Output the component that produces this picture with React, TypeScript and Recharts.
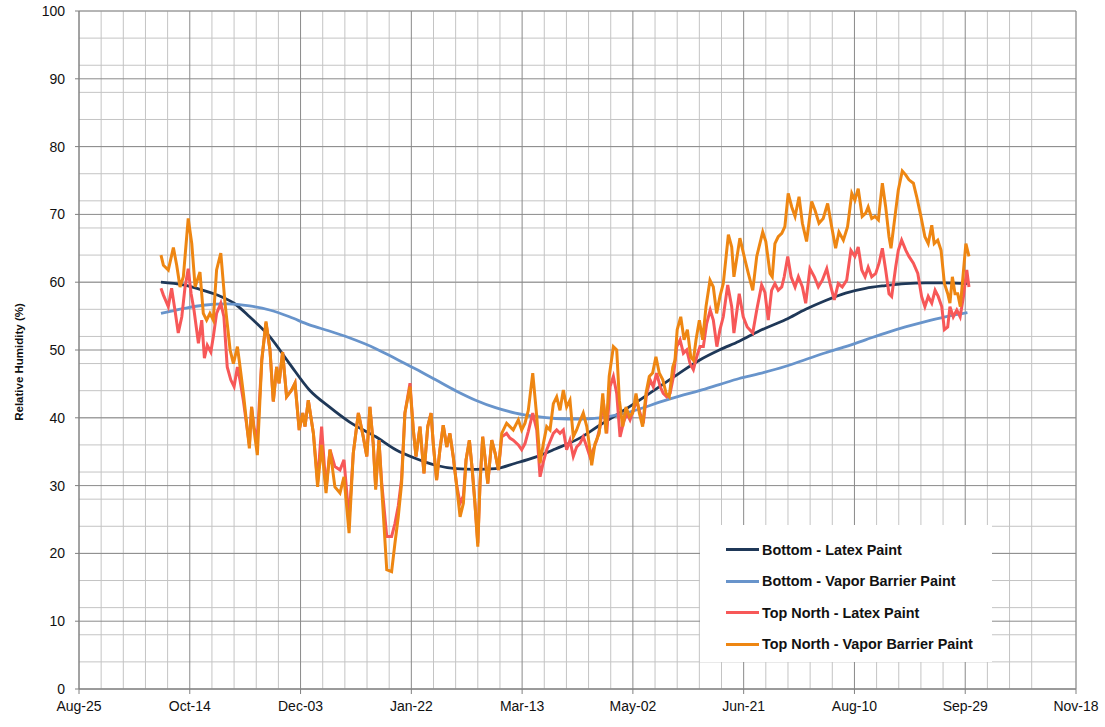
import { LineChart, Line, XAxis, YAxis, CartesianGrid, Legend, Label } from "recharts";

// x values are days counted from Aug-25
const xTicks = [0, 50, 100, 150, 200, 250, 300, 350, 400, 450];
const xTickLabels = ["Aug-25", "Oct-14", "Dec-03", "Jan-22", "Mar-13", "May-02", "Jun-21", "Aug-10", "Sep-29", "Nov-18"];
const yTicks = [0, 10, 20, 30, 40, 50, 60, 70, 80, 90, 100];

const bottomLatexDays = [37, 47, 56, 64, 70, 77, 86, 95, 104, 113, 122, 134, 143, 152, 161, 170, 179, 188, 197, 206, 215, 226, 235, 244, 253, 262, 271, 280, 289, 298, 307, 319, 328, 337, 346, 355, 364, 373, 382, 391, 401];
const bottomLatexRH = [60.0, 59.6, 58.8, 57.9, 56.9, 54.9, 52.0, 48.0, 44.1, 41.6, 39.4, 37.2, 35.3, 34.0, 33.0, 32.5, 32.4, 32.5, 33.3, 34.2, 35.4, 37.0, 38.9, 40.7, 42.6, 44.6, 46.6, 48.5, 50.0, 51.3, 52.8, 54.5, 56.0, 57.3, 58.4, 59.1, 59.5, 59.8, 59.9, 59.9, 59.8];

const bottomVaporDays = [37, 47, 56, 67, 77, 86, 95, 104, 113, 122, 134, 143, 152, 161, 170, 179, 188, 197, 206, 215, 226, 235, 244, 253, 262, 271, 280, 289, 298, 307, 319, 328, 337, 346, 355, 364, 373, 382, 391, 401];
const bottomVaporRH = [55.4, 56.1, 56.6, 56.8, 56.5, 55.9, 54.9, 53.7, 52.8, 51.8, 50.2, 48.7, 47.2, 45.6, 44.0, 42.6, 41.5, 40.7, 40.2, 39.9, 39.8, 40.0, 40.5, 41.3, 42.3, 43.2, 44.0, 44.9, 45.8, 46.5, 47.6, 48.6, 49.6, 50.5, 51.5, 52.5, 53.4, 54.2, 54.9, 55.5];

const topLatexDays = [
  37.0, 38.1, 40.3, 41.8, 43.3, 44.8, 46.4, 47.8, 49.3, 50.6,
  51.9, 53.9, 55.4, 56.6, 57.9, 59.5, 60.6, 62.1, 64.0, 65.4,
  66.9, 68.5, 70.0, 71.5, 72.7, 74.2, 76.9, 77.9, 79.0, 80.5,
  82.5, 84.4, 86.2, 87.7, 89.2, 90.3, 91.9, 93.7, 96.0, 97.5,
  99.4, 101.0, 102.0, 103.5, 105.8, 107.7, 109.5, 111.5, 113.3, 115.5,
  117.8, 119.6, 121.9, 123.8, 126.1, 128.3, 129.9, 131.3, 132.8, 133.9,
  135.4, 136.6, 138.9, 141.1, 142.6, 144.1, 145.6, 147.1, 149.4, 150.9,
  152.1, 153.9, 155.7, 157.4, 158.9, 159.9, 161.4, 162.9, 164.4, 166.0,
  167.4, 168.9, 170.5, 172.0, 173.5, 174.7, 176.2, 177.5, 178.7, 180.0,
  181.0, 182.2, 183.2, 184.5, 186.3, 187.8, 189.3, 190.8, 193.0, 194.5,
  196.0, 198.3, 199.8, 201.3, 202.8, 204.8, 206.6, 208.1, 209.6, 211.1,
  212.6, 214.1, 215.6, 217.1, 218.6, 220.1, 221.6, 223.1, 224.6, 226.1,
  227.6, 229.2, 230.6, 232.1, 233.7, 235.2, 236.6, 238.2, 239.7, 241.2,
  242.7, 244.2, 245.7, 247.2, 248.7, 250.2, 251.7, 253.2, 254.7, 256.2,
  257.8, 259.2, 260.7, 262.3, 263.7, 265.3, 266.8, 268.3, 269.8, 271.3,
  272.8, 274.3, 275.8, 277.3, 278.8, 280.3, 281.8, 283.3, 284.9, 286.3,
  287.9, 289.3, 290.8, 292.8, 294.6, 295.6, 298.0, 299.8, 301.6, 304.1,
  305.9, 308.1, 309.6, 311.1, 312.6, 314.1, 315.6, 317.2, 318.3, 319.9,
  321.4, 323.2, 324.7, 326.5, 328.0, 329.9, 331.9, 333.7, 335.5, 337.5,
  339.0, 340.9, 342.7, 344.5, 346.5, 348.4, 350.2, 351.7, 353.3, 354.8,
  356.2, 357.8, 359.6, 361.1, 362.6, 364.1, 365.6, 366.8, 368.6, 369.8,
  371.3, 373.2, 374.6, 376.6, 378.6, 380.3, 381.8, 383.3, 384.9, 386.4,
  387.8, 389.4, 390.6, 392.1, 393.1, 394.6, 396.2, 397.7, 399.2, 400.7,
  401.7,
];
const topLatexRH = [
  59.1, 58.1, 56.4, 59.1, 55.9, 52.5, 54.9, 59.1, 62.0, 58.3,
  55.9, 51.0, 54.4, 48.8, 50.7, 49.7, 51.9, 55.4, 56.9, 54.9,
  47.5, 45.6, 44.6, 47.5, 45.5, 42.5, 36.0, 41.6, 38.5, 37.0,
  48.5, 54.0, 50.0, 42.4, 47.5, 45.1, 49.7, 43.1, 44.1, 45.1,
  38.2, 40.7, 38.7, 42.6, 37.7, 30.5, 38.7, 29.5, 35.3, 32.8,
  32.3, 33.8, 25.0, 34.8, 40.7, 37.2, 34.3, 41.6, 36.2, 29.8,
  36.7, 30.5, 22.5, 22.5, 24.4, 27.0, 31.0, 40.7, 45.1, 38.2,
  34.3, 38.7, 31.8, 38.7, 40.7, 36.2, 30.8, 35.3, 38.9, 35.7,
  37.7, 34.3, 30.0, 27.4, 28.5, 33.8, 36.7, 32.3, 27.4, 21.5,
  30.3, 37.2, 34.3, 30.3, 36.7, 34.8, 32.3, 37.2, 37.7, 37.0,
  36.7, 36.0, 35.3, 36.2, 38.0, 40.7, 38.2, 31.3, 33.5, 35.3,
  36.5, 37.7, 38.2, 37.7, 38.2, 35.3, 36.7, 34.3, 35.7, 36.2,
  37.2, 35.7, 34.3, 35.3, 36.7, 38.7, 42.6, 37.7, 44.6, 46.1,
  43.6, 37.2, 39.2, 40.7, 39.7, 41.1, 42.6, 40.7, 39.2, 43.6,
  45.6, 44.6, 46.6, 44.6, 43.6, 43.1, 43.6, 46.1, 50.5, 51.5,
  49.5, 50.0, 48.0, 47.1, 49.0, 50.5, 50.5, 53.9, 55.9, 54.4,
  50.5, 53.0, 54.9, 59.6, 56.4, 52.5, 58.3, 54.9, 53.4, 52.5,
  55.9, 59.6, 58.5, 54.4, 58.8, 59.8, 58.8, 59.3, 60.8, 63.8,
  60.8, 59.3, 60.8, 59.3, 56.9, 62.0, 60.8, 59.3, 60.3, 62.0,
  59.8, 57.4, 59.8, 59.3, 60.3, 64.7, 63.8, 65.2, 61.8, 60.8,
  62.2, 60.8, 61.3, 62.8, 65.0, 61.8, 58.3, 57.9, 62.2, 64.7,
  66.2, 64.7, 63.8, 62.8, 61.3, 57.9, 56.4, 57.9, 56.9, 58.8,
  57.9, 56.4, 53.0, 53.4, 56.4, 54.9, 55.9, 54.9, 57.9, 61.8,
  59.3,
];

const topVaporDays = [
  37.0, 38.1, 40.3, 42.6, 44.1, 45.6, 47.1, 49.3, 50.9, 52.4,
  54.6, 56.1, 57.6, 59.1, 60.6, 62.1, 64.0, 65.9, 68.2, 69.7,
  71.5, 72.7, 74.2, 76.9, 77.9, 79.0, 80.5, 82.5, 84.4, 86.2,
  87.7, 89.2, 90.3, 91.9, 93.7, 96.0, 97.5, 99.4, 101.0, 102.0,
  103.5, 105.8, 107.7, 109.5, 111.5, 113.3, 115.5, 117.8, 119.6, 121.9,
  123.8, 126.1, 128.3, 129.9, 131.3, 132.8, 133.9, 135.4, 136.6, 138.9,
  141.1, 142.6, 144.1, 145.6, 147.1, 149.4, 150.9, 152.1, 153.9, 155.7,
  157.4, 158.9, 159.9, 161.4, 162.9, 164.4, 166.0, 167.4, 168.9, 170.5,
  172.0, 173.5, 174.7, 176.2, 177.5, 178.7, 180.0, 181.0, 182.2, 183.2,
  184.5, 186.3, 187.8, 189.3, 190.8, 193.0, 194.5, 196.0, 198.3, 199.8,
  201.3, 202.8, 204.8, 206.6, 208.1, 209.6, 211.1, 212.6, 214.1, 215.6,
  217.1, 218.6, 220.1, 221.6, 223.1, 224.6, 225.7, 227.6, 229.2, 230.6,
  231.4, 232.9, 234.8, 236.4, 237.9, 239.3, 241.2, 242.7, 243.9, 245.4,
  246.9, 248.4, 249.9, 251.4, 252.9, 254.4, 255.9, 257.4, 258.9, 260.4,
  261.9, 263.5, 265.0, 266.4, 268.0, 269.0, 270.0, 271.6, 273.1, 274.6,
  276.1, 277.3, 278.5, 280.0, 281.5, 283.0, 284.8, 286.3, 287.8, 289.3,
  290.8, 293.1, 294.6, 295.6, 298.3, 300.6, 302.1, 304.1, 305.9, 308.6,
  310.0, 311.9, 312.9, 314.1, 315.6, 317.2, 318.6, 320.1, 321.7, 323.2,
  325.0, 326.5, 328.4, 330.7, 332.2, 334.0, 335.9, 337.9, 339.7, 341.5,
  343.0, 345.0, 346.9, 348.8, 350.2, 351.7, 353.5, 355.1, 356.2, 357.8,
  359.3, 360.8, 362.6, 364.1, 365.6, 366.5, 368.3, 369.8, 371.6, 373.2,
  374.6, 376.6, 378.1, 380.0, 381.8, 383.3, 384.9, 386.0, 387.6, 389.1,
  390.6, 392.1, 393.1, 394.2, 395.4, 396.6, 397.8, 398.7, 400.3, 401.7,
];
const topVaporRH = [
  64.0, 62.5, 61.8, 65.1, 62.5, 59.3, 60.8, 69.4, 65.7, 59.3,
  61.5, 55.4, 54.4, 55.4, 54.4, 61.8, 64.3, 56.9, 50.0, 48.0,
  50.5, 47.5, 43.6, 35.5, 41.6, 38.2, 34.5, 48.5, 54.2, 50.0,
  42.4, 47.5, 45.1, 49.7, 43.1, 44.1, 45.1, 38.2, 40.7, 38.7,
  42.6, 37.7, 29.8, 36.0, 28.9, 35.3, 29.8, 28.9, 31.3, 23.0,
  34.8, 40.7, 37.2, 34.3, 41.6, 36.2, 29.4, 36.7, 29.8, 17.6,
  17.3, 21.5, 25.4, 30.3, 40.7, 44.6, 38.2, 34.3, 38.7, 31.8,
  38.7, 40.7, 36.2, 30.8, 35.3, 38.9, 35.7, 37.7, 34.3, 29.8,
  25.4, 27.4, 33.8, 36.7, 32.3, 27.4, 21.0, 30.3, 37.2, 34.3,
  30.3, 36.7, 34.8, 32.3, 37.7, 39.2, 38.7, 38.2, 39.7, 38.2,
  39.2, 41.1, 46.6, 40.2, 33.3, 36.2, 38.7, 38.2, 42.1, 43.1,
  41.1, 44.1, 41.6, 42.6, 37.2, 38.2, 39.2, 40.7, 38.7, 35.3,
  33.0, 36.2, 37.7, 43.6, 37.7, 46.1, 50.5, 50.0, 42.6, 38.7,
  41.6, 40.2, 40.7, 43.6, 40.7, 38.7, 43.6, 46.1, 46.6, 49.0,
  46.6, 45.6, 43.6, 43.1, 47.5, 48.5, 53.0, 54.9, 51.5, 53.0,
  49.0, 48.5, 51.5, 54.4, 51.5, 56.4, 60.3, 59.3, 55.4, 57.9,
  59.8, 67.0, 65.2, 60.8, 66.5, 63.3, 61.3, 58.8, 63.8, 67.4,
  66.0, 61.3, 60.8, 65.7, 66.7, 67.2, 68.2, 73.1, 71.1, 69.7,
  72.6, 68.7, 66.0, 71.9, 70.6, 68.7, 69.4, 71.6, 68.2, 65.0,
  67.4, 66.2, 68.2, 73.1, 72.1, 73.8, 69.7, 70.2, 71.1, 69.4,
  69.7, 69.2, 74.6, 71.1, 66.7, 65.0, 69.7, 73.6, 76.4, 75.8,
  75.1, 74.6, 72.6, 69.7, 66.7, 65.7, 68.4, 65.7, 66.2, 64.7,
  59.8, 58.3, 56.9, 60.8, 58.3, 58.3, 56.4, 59.8, 65.7, 63.8,
];

const toRows = (days: number[], rh: number[]) => days.map((day, i) => ({ day, rh: rh[i] }));

const SERIES = [
  { name: "Bottom - Latex Paint", color: "#1f3858", width: 2.8, type: "monotone", data: toRows(bottomLatexDays, bottomLatexRH) },
  { name: "Bottom - Vapor Barrier Paint", color: "#6894cb", width: 2.8, type: "monotone", data: toRows(bottomVaporDays, bottomVaporRH) },
  { name: "Top North - Latex Paint", color: "#f75858", width: 3, type: "linear", data: toRows(topLatexDays, topLatexRH) },
  { name: "Top North - Vapor Barrier Paint", color: "#ee8612", width: 3, type: "linear", data: toRows(topVaporDays, topVaporRH) },
];

// grid positions: minor every 2 % / 10 days, major on the tick values
const minorY = Array.from({ length: 51 }, (_, i) => i * 2);
const minorX = Array.from({ length: 46 }, (_, i) => i * 10);

function LegendBox() {
  return (
    <div style={{ background: "#fff", width: 292, height: 137, paddingTop: 9, boxSizing: "border-box" }}>
      {SERIES.map((s) => (
        <div key={s.name} style={{ display: "flex", alignItems: "center", height: 31.5, paddingLeft: 26 }}>
          <span style={{ display: "inline-block", width: 33, height: 3, background: s.color, marginRight: 3 }} />
          <span style={{ fontSize: 14.4, fontWeight: "bold", color: "#111", whiteSpace: "nowrap" }}>{s.name}</span>
        </div>
      ))}
    </div>
  );
}

export default function App() {
  return (
    <div style={{ position: "absolute", left: 0, top: 0, width: 1105, height: 727, background: "#fff", fontFamily: "'Liberation Sans', Arial, sans-serif" }}>
      <LineChart width={1105} height={727} margin={{ top: 11, right: 29, bottom: 0, left: 0 }}>
        <CartesianGrid horizontalValues={minorY} verticalValues={minorX} stroke="#c4c4c4" strokeWidth={1} />
        <CartesianGrid horizontalValues={yTicks} verticalValues={xTicks} stroke="#8a8a8a" strokeWidth={1} />
        <XAxis
          dataKey="day"
          type="number"
          domain={[0, 450]}
          ticks={xTicks}
          tickFormatter={(v: number) => xTickLabels[xTicks.indexOf(v)]}
          height={38}
          tickSize={5}
          tickMargin={7}
          stroke="#808080"
          tick={{ fill: "#111", fontSize: 14 }}
          allowDataOverflow
        />
        <YAxis
          type="number"
          domain={[0, 100]}
          ticks={yTicks}
          width={79}
          tickSize={4}
          tickMargin={10}
          stroke="#808080"
          tick={{ fill: "#111", fontSize: 14 }}
        >
          <Label
            content={() => (
              <text x={19} y={362} transform="rotate(-90 19 362)" textAnchor="middle" dominantBaseline="central" fontSize={11.5} fontWeight="bold" fill="#111">
                Relative Humidity (%)
              </text>
            )}
          />
        </YAxis>
        {SERIES.map((s) => (
          <Line
            key={s.name}
            data={s.data}
            dataKey="rh"
            name={s.name}
            type={s.type as "monotone" | "linear"}
            stroke={s.color}
            strokeWidth={s.width}
            dot={false}
            activeDot={false}
            isAnimationActive={false}
          />
        ))}
        <Legend
          layout="vertical"
          align="center"
          verticalAlign="middle"
          content={() => <LegendBox />}
          wrapperStyle={{ left: 700, top: 525, width: 292, height: 137 }}
        />
      </LineChart>
    </div>
  );
}
